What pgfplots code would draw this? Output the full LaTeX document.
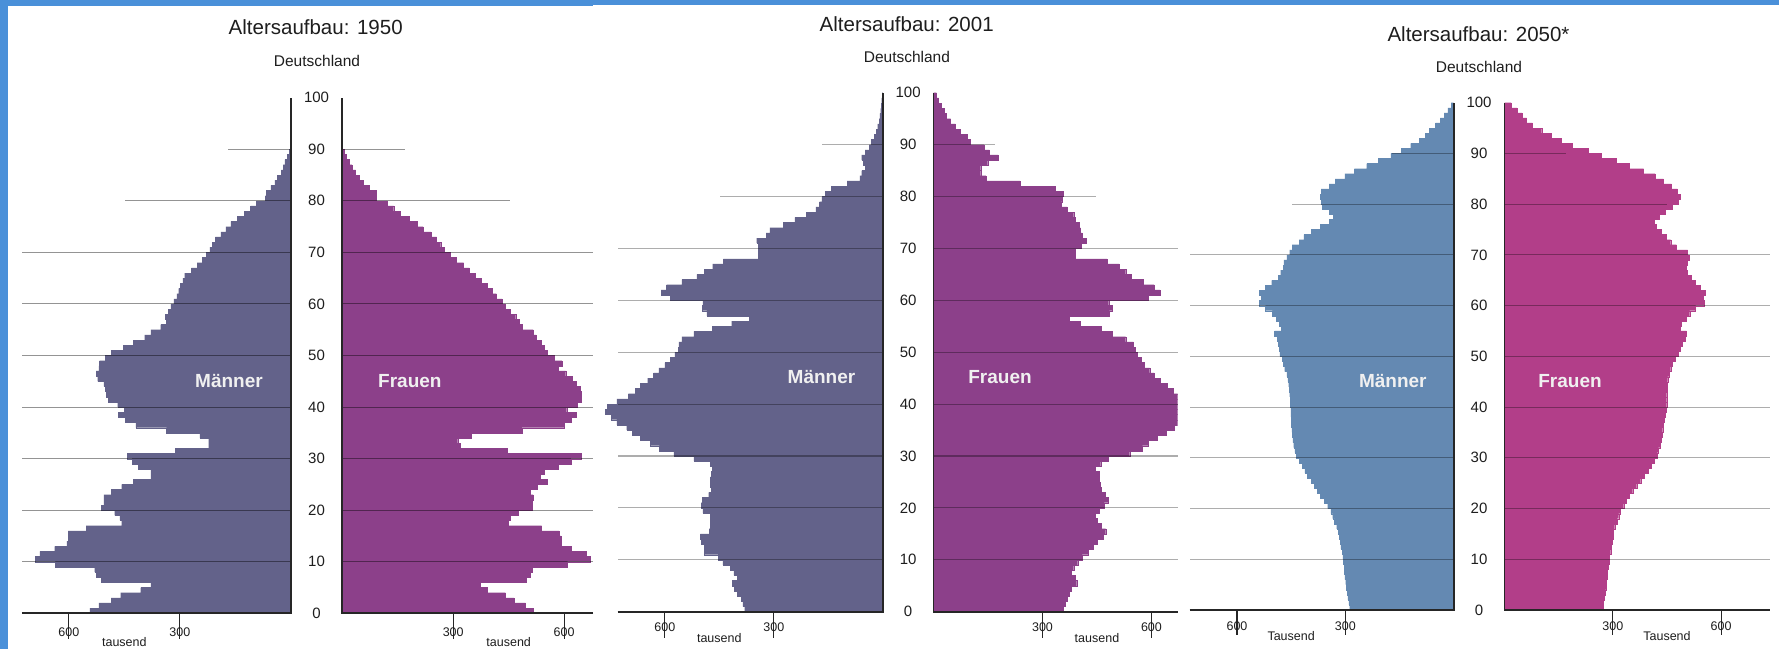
\documentclass[border=0pt]{standalone}
\usepackage{fontspec}
\setmainfont{Liberation Sans}
\usepackage{pgfplots}
\pgfplotsset{compat=1.18}
\definecolor{bgblue}{RGB}{74,144,217}
\definecolor{mA}{RGB}{99,98,138}
\definecolor{wA}{RGB}{140,64,138}
\definecolor{mB}{RGB}{100,137,178}
\definecolor{wB}{RGB}{178,62,137}
\definecolor{txt}{RGB}{30,30,30}
\pgfplotsset{
  pyr/.style={scale only axis, axis lines=none, ymin=0, ymax=100, xmin=0,
    anchor=south west, clip mode=individual},
}
\tikzset{
  gl/.style={black, opacity=0.42, line width=1.1pt},
  glb/.style={black, opacity=0.32, line width=1.1pt},
  axl/.style={black!85, line width=1.9pt},
  tk/.style={black!85, line width=1.1pt},
  agel/.style={font=\fontsize{15}{18}\selectfont, text=txt, inner sep=0pt},
  xtl/.style={font=\fontsize{12.5}{14}\selectfont, text=txt, inner sep=0pt},
  ttl/.style={font=\fontsize{20.5}{24}\selectfont, text=txt, anchor=base, inner sep=0pt},
  sttl/.style={font=\fontsize{15.5}{18}\selectfont, text=txt, anchor=base, inner sep=0pt},
  sex/.style={font=\bfseries\fontsize{19}{22}\selectfont, text=white!94!black, inner sep=0pt},
}
\begin{document}
\begin{tikzpicture}[x=1pt,y=1pt]
\path[use as bounding box] (0,0) rectangle (1779,649);
\fill[white] (0,0) rectangle (1779,649);
\fill[bgblue] (0,0) rectangle (7.7,649);
\fill[bgblue] (0,643) rectangle (593,649);
\fill[bgblue] (593,644) rectangle (1779,649);

% ================= 1950 =================
\begin{axis}[pyr, x dir=reverse, at={(21.8pt,35.7pt)}, width=269.1pt, height=515.6pt, xmax=727]
\addplot[xbar interval, fill=mA, draw=mA, line width=0.2pt] coordinates {
(543,0)(519,1)(486,2)(460,3)(406,4)(378,5)(512,6)(526,7)(530,8)(636,9)(691,10)(678,11)(638,12)(605,13)(602,14)(602,15)(553,16)(457,17)(462,18)(476,19)(512,20)(505,21)(505,22)(486,23)(457,24)(426,25)(378,26)(378,27)(412,28)(429,29)(442,30)(312,31)(222,32)(222,33)(246,34)(336,35)(419,36)(447,37)(466,38)(450,39)(468,40)(494,41)(499,42)(502,43)(505,44)(522,45)(526,46)(519,47)(517,48)(502,49)(486,50)(453,51)(426,52)(395,53)(378,54)(352,55)(336,56)(339,57)(331,58)(324,59)(316,60)(308,61)(303,62)(298,63)(292,64)(287,65)(269,66)(253,67)(240,68)(228,69)(219,70)(212,71)(204,72)(189,73)(176,74)(162,75)(145,76)(126,77)(109,78)(93,79)(69,80)(67,81)(54,82)(43,83)(36,84)(26,85)(21,86)(16,87)(10,88)(5,89)(0,90)};
\pgfplotsinvokeforeach{10,20,...,70}{\draw[gl] (axis cs:0,#1) -- (axis cs:727,#1);}
\draw[gl] (axis cs:0,80) -- (axis cs:449,80);
\draw[gl] (axis cs:0,90) -- (axis cs:171,90);
\draw[axl] (axis cs:727,0) -- (axis cs:0,0) -- (axis cs:0,100);
\draw[tk] (axis cs:300,0) -- ++(0,-5); \draw[tk] (axis cs:600,0) -- ++(0,-5);
\node[xtl] at (axis cs:300,0) [yshift=-18.4pt] {300};
\node[xtl] at (axis cs:600,0) [yshift=-18.4pt] {600};
\node[xtl] at (axis cs:450,0) [yshift=-28.4pt] {tausend};
\pgfplotsinvokeforeach{0,10,...,100}{\node[agel] at (axis cs:0,#1) [xshift=25.65pt] {#1};}
\end{axis}
\begin{axis}[pyr, at={(342.2pt,35.7pt)}, width=250.8pt, height=515.6pt, xmax=678]
\addplot[xbar interval, fill=wA, draw=wA, line width=0.2pt] coordinates {
(516,0)(495,1)(464,2)(441,3)(393,4)(372,5)(497,6)(507,7)(514,8)(609,9)(670,10)(659,11)(620,12)(591,13)(591,14)(586,15)(539,16)(448,17)(455,18)(476,19)(514,20)(514,21)(516,22)(507,23)(526,24)(555,25)(536,26)(547,27)(583,28)(618,29)(646,30)(445,31)(318,32)(312,33)(349,34)(486,35)(599,36)(618,37)(632,38)(607,39)(635,40)(646,41)(646,42)(643,43)(632,44)(622,45)(604,46)(583,47)(594,48)(573,49)(555,50)(547,51)(539,52)(524,53)(516,54)(486,55)(479,56)(469,57)(453,58)(441,59)(432,60)(417,61)(406,62)(393,63)(375,64)(359,65)(344,66)(328,67)(309,68)(292,69)(276,70)(266,71)(255,72)(240,73)(219,74)(203,75)(182,76)(156,77)(139,78)(122,79)(91,80)(91,81)(73,82)(57,83)(45,84)(36,85)(26,86)(18,87)(10,88)(5,89)(0,90)};
\pgfplotsinvokeforeach{10,20,...,70}{\draw[gl] (axis cs:0,#1) -- (axis cs:678,#1);}
\draw[gl] (axis cs:0,80) -- (axis cs:453,80);
\draw[gl] (axis cs:0,90) -- (axis cs:170,90);
\draw[axl] (axis cs:678,0) -- (axis cs:0,0) -- (axis cs:0,100);
\draw[tk] (axis cs:300,0) -- ++(0,-5); \draw[tk] (axis cs:600,0) -- ++(0,-5);
\node[xtl] at (axis cs:300,0) [yshift=-18.4pt] {300};
\node[xtl] at (axis cs:600,0) [yshift=-18.4pt] {600};
\node[xtl] at (axis cs:450,0) [yshift=-28.4pt] {tausend};
\end{axis}

% ================= 2001 =================
\begin{axis}[pyr, x dir=reverse, at={(603pt,37.3pt)}, width=279.8pt, height=519pt, xmax=770]
\addplot[xbar interval, fill=mA, draw=mA, line width=0.2pt] coordinates {
(380,0)(385,1)(390,2)(400,3)(408,4)(415,5)(400,6)(410,7)(420,8)(440,9)(453,10)(492,11)(492,12)(500,13)(502,14)(478,15)(475,16)(474,17)(474,18)(495,19)(500,20)(497,21)(479,22)(472,23)(475,24)(475,25)(472,26)(470,27)(475,28)(520,29)(575,30)(615,31)(640,32)(668,33)(689,34)(705,35)(732,36)(747,37)(763,38)(758,39)(732,40)(700,41)(681,42)(668,43)(647,44)(631,45)(616,46)(600,47)(584,48)(572,49)(563,50)(561,51)(553,52)(520,53)(470,54)(416,55)(368,56)(484,57)(497,58)(495,59)(584,60)(610,61)(595,62)(553,63)(512,64)(492,65)(468,66)(439,67)(342,68)(342,69)(342,70)(347,71)(321,72)(311,73)(274,74)(242,75)(210,76)(184,77)(174,78)(168,79)(158,80)(142,81)(98,82)(63,83)(58,84)(49,85)(53,86)(58,87)(49,88)(37,89)(32,90)(24,91)(18,92)(14,93)(10,94)(8,95)(6,96)(4,97)(3,98)(2,99)(0,100)};
\pgfplotsinvokeforeach{10,20,...,70}{\draw[glb] (axis cs:0,#1) -- (axis cs:730,#1);}
\draw[glb] (axis cs:0,80) -- (axis cs:447,80);
\draw[glb] (axis cs:0,90) -- (axis cs:168,90);
\draw[axl] (axis cs:730,0) -- (axis cs:0,0) -- (axis cs:0,100);
\draw[tk] (axis cs:300,0) -- ++(0,-5); \draw[tk] (axis cs:600,0) -- ++(0,-5);
\node[xtl] at (axis cs:300,0) [yshift=-15.6pt] {300};
\node[xtl] at (axis cs:600,0) [yshift=-15.6pt] {600};
\node[xtl] at (axis cs:450,0) [yshift=-26.6pt] {tausend};
\pgfplotsinvokeforeach{0,10,...,100}{\node[agel] at (axis cs:0,#1) [xshift=25.35pt] {#1};}
\end{axis}
\begin{axis}[pyr, at={(933.5pt,37.3pt)}, width=244.1pt, height=519pt, xmax=672]
\addplot[xbar interval, fill=wA, draw=wA, line width=0.2pt] coordinates {
(357,0)(362,1)(368,2)(373,3)(380,4)(394,5)(389,6)(380,7)(386,8)(397,9)(409,10)(425,11)(439,12)(451,13)(467,14)(474,15)(461,16)(451,17)(446,18)(456,19)(470,20)(480,21)(472,22)(461,23)(459,24)(456,25)(456,26)(446,27)(460,28)(480,29)(540,30)(575,31)(590,32)(615,33)(640,34)(662,35)(690,36)(700,37)(705,38)(700,39)(690,40)(680,41)(659,42)(644,43)(623,44)(607,45)(595,46)(581,47)(571,48)(560,49)(555,50)(550,51)(529,52)(493,53)(461,54)(404,55)(373,56)(484,57)(493,58)(482,59)(592,60)(623,61)(607,62)(578,63)(545,64)(529,65)(511,66)(477,67)(391,68)(391,69)(407,70)(420,71)(409,72)(404,73)(401,74)(391,75)(386,76)(368,77)(352,78)(355,79)(357,80)(336,81)(238,82)(144,83)(130,84)(130,85)(149,86)(178,87)(154,88)(139,89)(102,90)(92,91)(74,92)(60,93)(47,94)(36,95)(29,96)(22,97)(14,98)(8,99)(0,100)};
\pgfplotsinvokeforeach{10,20,...,70}{\draw[glb] (axis cs:0,#1) -- (axis cs:672,#1);}
\draw[glb] (axis cs:0,80) -- (axis cs:446,80);
\draw[glb] (axis cs:0,90) -- (axis cs:168,90);
\draw[axl] (axis cs:672,0) -- (axis cs:0,0) -- (axis cs:0,100);
\draw[tk] (axis cs:300,0) -- ++(0,-5); \draw[tk] (axis cs:600,0) -- ++(0,-5);
\node[xtl] at (axis cs:300,0) [yshift=-15.6pt] {300};
\node[xtl] at (axis cs:600,0) [yshift=-15.6pt] {600};
\node[xtl] at (axis cs:450,0) [yshift=-26.6pt] {tausend};
\end{axis}

% ================= 2050 =================
\begin{axis}[pyr, x dir=reverse, at={(1189.7pt,39pt)}, width=263.9pt, height=507.3pt, xmax=731]
\addplot[xbar interval, fill=mB, draw=mB, line width=0.2pt] coordinates {
(288,0)(290,1)(293,2)(295,3)(297,4)(299,5)(301,6)(302,7)(303,8)(305,9)(307,10)(309,11)(312,12)(314,13)(316,14)(320,15)(324,16)(330,17)(335,18)(340,19)(349,20)(359,21)(370,22)(377,23)(386,24)(394,25)(405,26)(412,27)(419,28)(428,29)(436,30)(440,31)(443,32)(445,33)(447,34)(448,35)(449,36)(450,37)(451,38)(451,39)(452,40)(453,41)(454,42)(455,43)(457,44)(459,45)(462,46)(468,47)(472,48)(475,49)(481,50)(483,51)(485,52)(489,53)(496,54)(478,55)(483,56)(491,57)(502,58)(521,59)(539,60)(533,61)(539,62)(521,63)(504,64)(486,65)(479,66)(472,67)(470,68)(462,69)(454,70)(447,71)(428,72)(415,73)(394,74)(370,75)(345,76)(333,77)(345,78)(364,79)(367,80)(370,81)(367,82)(345,83)(328,84)(301,85)(275,86)(241,87)(208,88)(174,89)(145,90)(119,91)(95,92)(79,93)(67,94)(50,95)(37,96)(26,97)(16,98)(7,99)(0,100)};
\pgfplotsinvokeforeach{10,20,...,70}{\draw[glb] (axis cs:0,#1) -- (axis cs:731,#1);}
\draw[glb] (axis cs:0,80) -- (axis cs:449,80);
\draw[glb] (axis cs:0,90) -- (axis cs:170,90);
\draw[axl] (axis cs:731,0) -- (axis cs:0,0) -- (axis cs:0,100);
\draw[tk] (axis cs:300,0) -- ++(0,-5); \draw[tk] (axis cs:600,0) -- ++(0,-5);
\node[xtl] at (axis cs:300,0) [yshift=-16pt] {300};
\node[xtl] at (axis cs:600,0) [yshift=-16pt] {600};
\node[xtl] at (axis cs:450,0) [yshift=-26pt] {Tausend};
\pgfplotsinvokeforeach{0,10,...,100}{\node[agel] at (axis cs:0,#1) [xshift=25.45pt] {#1};}
\end{axis}
\begin{axis}[pyr, at={(1504.5pt,39pt)}, width=265pt, height=507.3pt, xmax=734]
\addplot[xbar interval, fill=wB, draw=wB, line width=0.2pt] coordinates {
(273,0)(274,1)(277,2)(279,3)(281,4)(282,5)(284,6)(285,7)(287,8)(289,9)(291,10)(294,11)(296,12)(298,13)(300,14)(302,15)(305,16)(311,17)(316,18)(321,19)(330,20)(337,21)(345,22)(355,23)(366,24)(377,25)(387,26)(398,27)(406,28)(415,29)(422,30)(426,31)(430,32)(434,33)(436,34)(438,35)(440,36)(443,37)(445,38)(447,39)(449,40)(449,41)(449,42)(450,43)(451,44)(452,45)(455,46)(460,47)(465,48)(472,49)(481,50)(486,51)(491,52)(500,53)(504,54)(486,55)(489,56)(502,57)(513,58)(529,59)(553,60)(550,61)(555,62)(543,63)(529,64)(518,65)(507,66)(504,67)(507,68)(511,69)(507,70)(476,71)(460,72)(447,73)(433,74)(419,75)(415,76)(428,77)(444,78)(465,79)(481,80)(486,81)(479,82)(462,83)(440,84)(417,85)(385,86)(345,87)(309,88)(268,89)(231,90)(188,91)(156,92)(130,93)(103,94)(77,95)(61,96)(48,97)(34,98)(18,99)(0,100)};
\pgfplotsinvokeforeach{10,20,...,70}{\draw[glb] (axis cs:0,#1) -- (axis cs:734,#1);}
\draw[glb] (axis cs:0,80) -- (axis cs:450,80);
\draw[glb] (axis cs:0,90) -- (axis cs:170,90);
\draw[axl] (axis cs:734,0) -- (axis cs:0,0) -- (axis cs:0,100);
\draw[tk] (axis cs:300,0) -- ++(0,-5); \draw[tk] (axis cs:600,0) -- ++(0,-5);
\node[xtl] at (axis cs:300,0) [yshift=-16pt] {300};
\node[xtl] at (axis cs:600,0) [yshift=-16pt] {600};
\node[xtl] at (axis cs:450,0) [yshift=-26pt] {Tausend};
\end{axis}

% ================= titles and labels =================
\node[ttl] at (315.7,614) {Altersaufbau: 1950};
\node[sttl] at (317,582.3) {Deutschland};
\node[ttl] at (906.7,617.3) {Altersaufbau: 2001};
\node[sttl] at (906.9,586.7) {Deutschland};
\node[ttl] at (1478.5,607.3) {Altersaufbau: 2050*};
\node[sttl] at (1479,576.7) {Deutschland};
\node[sex] at (229,268) {Männer};
\node[sex] at (409.9,268) {Frauen};
\node[sex] at (821.5,272.3) {Männer};
\node[sex] at (1000,272.3) {Frauen};
\node[sex] at (1392.8,268) {Männer};
\node[sex] at (1570,268) {Frauen};
\end{tikzpicture}
\end{document}
